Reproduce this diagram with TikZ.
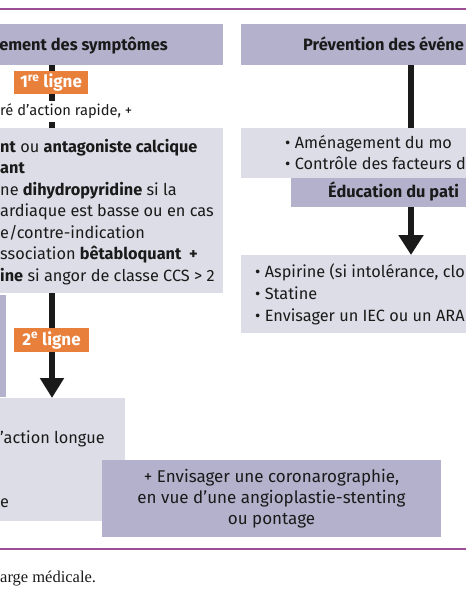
\documentclass[tikz,border=0pt]{standalone}
\usepackage{fontspec}
\setmainfont{Fira Sans}
\newfontfamily\capfont{Liberation Serif}
\usetikzlibrary{arrows.meta}
\definecolor{lav}{HTML}{B4B1CC}
\definecolor{lgray}{HTML}{DDDDE7}
\definecolor{orng}{HTML}{E8803C}
\definecolor{purp}{HTML}{9C4D95}
\definecolor{blk}{HTML}{1A1A1A}
\tikzset{
  lavbox/.style={fill=lav, draw=none, inner sep=0pt, anchor=north west},
  graybox/.style={fill=lgray, draw=none, inner sep=0pt, anchor=north west},
  tag/.style={fill=orng, text=white, font=\fontsize{17}{18}\selectfont\bfseries, inner sep=0pt},
  body/.style={anchor=base west, inner sep=0pt, font=\fontsize{16.3}{21.5}\selectfont, text=blk},
  titletxt/.style={anchor=base west, inner sep=0pt, font=\fontsize{16.4}{20}\selectfont\bfseries, text=blk},
  conn/.style={draw=blk, line width=5.5pt},
  arr/.style={draw=blk, line width=6pt, -{Triangle[length=20pt,width=23pt]}},
  rule/.style={draw=purp, line width=2pt},
}
\begin{document}
\begin{tikzpicture}[x=1pt,y=-1pt]
\useasboundingbox (0,0) rectangle (466,600);
\clip (0,0) rectangle (466,600);
% rules
\draw[rule] (-5,9) -- (471,9);
\draw[rule] (-5,549) -- (471,549);
% boxes
\node[lavbox, minimum width=323pt, minimum height=41pt] (tl) at (-100,24) {};
\node[lavbox, minimum width=359pt, minimum height=41pt] (tr) at (241,24) {};
\node[graybox, minimum width=323pt, minimum height=165pt] (lb) at (-100,128) {};
\node[lavbox, minimum width=106pt, minimum height=102pt] (lbar) at (-100,295) {};
\node[graybox, minimum width=225pt, minimum height=123pt] (ll) at (-100,398) {};
\node[graybox, minimum width=359pt, minimum height=50pt] (r1) at (241,128) {};
\node[lavbox, minimum width=309pt, minimum height=29pt] (ed) at (291,178) {};
\node[graybox, minimum width=359pt, minimum height=78pt] (r2) at (241,255) {};
\node[fill=lav, inner sep=0pt, minimum width=339pt, minimum height=77pt, align=center,
      font=\fontsize{17}{21}\selectfont, text=blk] (bb) at (271.5,498.5)
      {+ Envisager une coronarographie,\\ en vue d’une angioplastie-stenting\\ ou pontage};
% connector x positions
\coordinate (lx) at (52,0);
\coordinate (rx) at (411,0);
% left connectors
\draw[conn] (tl.south -| lx) -- (lb.north -| lx);
\node[tag, minimum width=74pt, minimum height=23pt] (t1) at (51,82.5) {1\textsuperscript{re} ligne};
\node[fill=white, inner sep=0pt, minimum height=21pt, anchor=west, font=\fontsize{14.7}{18}\selectfont, text=blk] (rap) at (0,111) {ré d’action rapide, +};
\draw[arr] (lb.south -| lx) -- (ll.north -| lx);
\node[tag, minimum width=75pt, minimum height=24pt] (t2) at (51.5,340) {2\textsuperscript{e} ligne};
% right connectors
\draw[conn, line width=6.5pt] (tr.south -| rx) -- (r1.north -| rx);
\draw[arr, line width=6.5pt, -{Triangle[length=20pt,width=24pt]}] (ed.south -| rx) -- (r2.north -| rx);
% titles
\node[titletxt, anchor=base east] (tlt) at (168,50) {ement des symptômes};
\node[titletxt] (trt) at (303,50) {Prévention des événe};
\node[titletxt] (edt) at (328,197) {Éducation du pati};
% left box text
\node[body] (a1) at (0,152) {\textbf{nt} ou \textbf{antagoniste calcique}};
\node[body] (a2) at (0,173.5) {\textbf{ant}};
\node[body] (a3) at (0,195) {ne \textbf{dihydropyridine} si la};
\node[body] (a4) at (0,216.5) {ardiaque est basse ou en cas};
\node[body] (a5) at (0,238) {e/contre-indication};
\node[body] (a6) at (0,259.5) {ssociation \textbf{bêtabloquant\ \ +}};
\node[body] (a7) at (0,281) {\textbf{ine} si angor de classe CCS > 2};
% lower left text
\node[body] (b1) at (0,443) {’action longue};
\node[body] (b2) at (0,507) {e};
% right text
\node[body] (c1) at (285,148) {• Aménagement du mo};
\node[body] (c2) at (285,169) {• Contrôle des facteurs d};
\node[body] (d1) at (255,277) {• Aspirine (si intolérance, clo};
\node[body] (d2) at (255,299) {• Statine};
\node[body] (d3) at (255,321) {• Envisager un IEC ou un ARA};
% caption
\node[anchor=base west, inner sep=0pt, font=\capfont\fontsize{16.5}{18}\selectfont, text=blk] (cap) at (0,582) {arge médicale.};
\end{tikzpicture}
\end{document}
